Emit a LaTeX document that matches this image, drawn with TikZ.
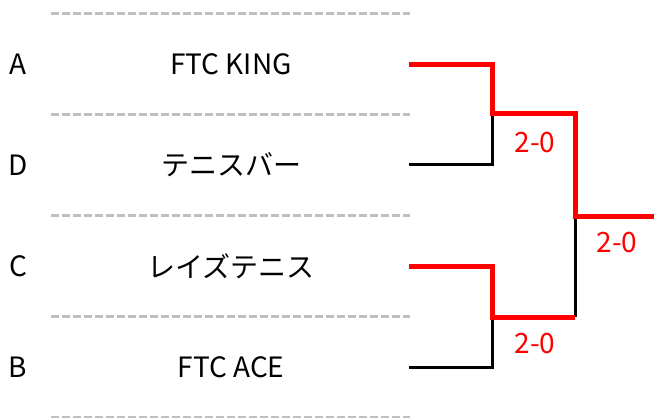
\documentclass[tikz,border=0pt]{standalone}
\usepackage{fontspec}
\setmainfont{Noto Sans CJK JP}
\usetikzlibrary{positioning}

\begin{document}
\begin{tikzpicture}[x=1pt, y=-1pt, font=\fontsize{28}{32}\selectfont,
		seed/.style={inner sep=0pt},
		team/.style={inner sep=0pt},
		score/.style={inner sep=0pt, text=red},
		sep/.style={draw=black!25, line width=3pt, dash pattern=on 8pt off 3pt},
		win/.style={draw=red, line width=5pt, line join=miter},
		lose/.style={draw=black, line width=3pt}]
		\useasboundingbox (0,0) rectangle (654,418);

		\foreach \y in {13,114,215,316,417}
			\draw[sep] (51,\y) -- (410,\y);

		\node [seed] (A) at (18,64)  {A};
		\node [seed] (D) at (18,165) {D};
		\node [seed] (C) at (18,266) {C};
		\node [seed] (B) at (18,367) {B};

		\node [team] (tA) at (231,64)  {FTC KING};
		\node [team] (tD) at (231,165) {テニスバー};
		\node [team] (tC) at (231,266) {レイズテニス};
		\node [team] (tB) at (231,367) {FTC ACE};

		\coordinate (eA) at (409,64);
		\coordinate (eD) at (409,164);
		\coordinate (eC) at (409,266);
		\coordinate (eB) at (409,367);
		\coordinate (semi1) at (492,113);
		\coordinate (semi2) at (492,317);
		\coordinate (final) at (575,216);
		\coordinate (champ) at (654,216);

		\path[lose] (eD) -| (semi1);
		\path[lose] (eB) -| (semi2);
		\path[lose] (semi2 -| final) -- (final);
		\path[win] (eA) -| (semi1) -- (semi1 -| final) |- (champ);
		\path[win] (eC) -| (semi2) -- (semi2 -| final);

		\node [score] (s1) at (535,143) {2-0};
		\node [score] (s2) at (535,344) {2-0};
		\node [score] (s3) at (617,243) {2-0};
	\end{tikzpicture}
\end{document}
